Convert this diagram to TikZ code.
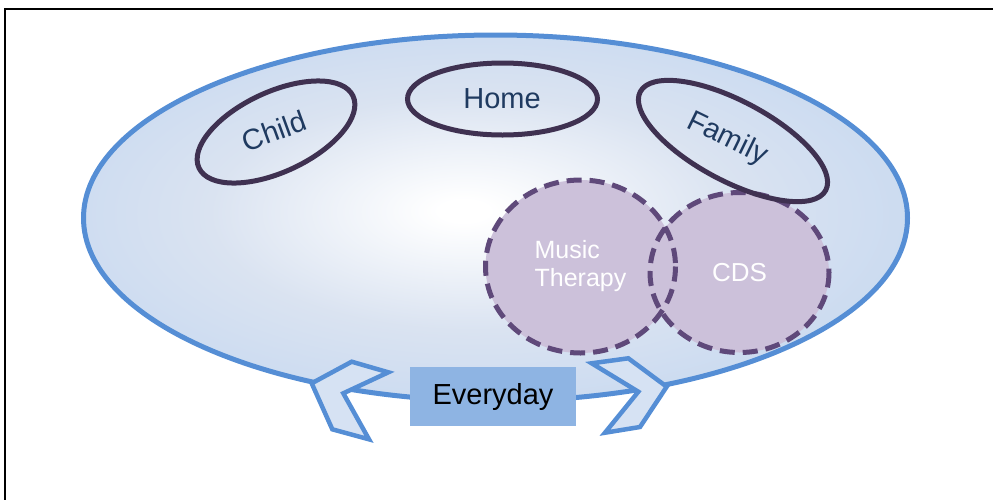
\documentclass[tikz,border=0pt]{standalone}
\usepackage{fontspec}
\setmainfont{Liberation Sans}
\usetikzlibrary{shapes.geometric}
\definecolor{ellblue}{HTML}{558ED5}
\definecolor{ellfill}{HTML}{C2D6F0}
\definecolor{ellmid}{HTML}{DAE3F1}
\definecolor{outl}{HTML}{3F3151}
\definecolor{txtnavy}{HTML}{1F3A60}
\definecolor{purfill}{HTML}{CCC1DA}
\definecolor{purline}{HTML}{5F497A}
\definecolor{boxblue}{HTML}{8EB4E3}
\definecolor{chevfill}{HTML}{D6E2F3}
\pgfdeclareradialshading{bigshade}{\pgfpoint{-2bp}{1bp}}{color(0bp)=(white); color(1.5bp)=(white); color(16bp)=(ellmid); color(33bp)=(ellfill); color(50bp)=(ellfill)}
\tikzset{
  smallell/.style={ellipse, draw=outl, line width=5pt, inner sep=0pt},
  lbl/.style={text=txtnavy, font=\fontsize{29}{32}\selectfont, inner sep=0pt},
  purcirc/.style={ellipse, fill=purfill, inner sep=0pt, text=white, align=left},
  purdash/.style={draw=purline, line width=5pt, dash pattern=on 15pt off 8pt},
  chevron/.style={draw=ellblue, fill=chevfill, line width=4.5pt, line join=miter},
}
\begin{document}
\begin{tikzpicture}[x=1pt,y=-1pt]
\useasboundingbox (0,0) rectangle (993,499);
% frame
\coordinate (fbl) at (5,500);
\coordinate (ftl) at (5,9);
\coordinate (ftr) at (994,9);
\draw[line width=2.5pt] (fbl) -- (ftl) -- (ftr);
% big ellipse
\node[ellipse, shade, shading=bigshade, draw=ellblue, line width=5pt, minimum width=824pt, minimum height=366pt, inner sep=0pt] (big) at (495.5,218) {};
% chevrons
\draw[chevron] (311.7,383.3) -- (351.7,361.7) -- (388.3,372.3) -- (343.3,393.3) -- (369,439.3) -- (332.3,429.3) -- cycle;
\draw[chevron] (666.7,386.7) -- (628.3,358.3) -- (591.7,363.3) -- (638.3,391.7) -- (605,432.7) -- (640,427) -- cycle;
% small ellipses
\node[smallell, minimum width=170pt, minimum height=80pt, rotate=25] (child) at (276,132) {};
\node[lbl, rotate=20] (childtxt) at (274,131) {Child};
\node[smallell, minimum width=190pt, minimum height=72pt] (home) at (502.5,99) {};
\node[lbl] (hometxt) at (502,99) {Home};
% purple circles
\node[purcirc, minimum width=190pt, minimum height=173pt, font=\fontsize{25}{28}\selectfont] (mt) at (580.5,266.5) {Music\\Therapy};
\node[purcirc, minimum width=179pt, minimum height=160pt, font=\fontsize{26}{30}\selectfont] (cds) at (739.5,272.5) {CDS};
\draw[purdash] (mt.center) ellipse [x radius=95, y radius=86.5];
\draw[purdash] (cds.center) ellipse [x radius=89.5, y radius=80];
% family
\node[smallell, minimum width=210pt, minimum height=80pt, rotate=-28] (family) at (733,141) {};
\node[lbl, rotate=-26] (familytxt) at (727,139) {Family};
% everyday
\node[fill=boxblue, minimum width=166pt, minimum height=59pt, inner sep=0pt, font=\fontsize{29}{32}\selectfont] (everyday) at (493,396.5) {Everyday};
\end{tikzpicture}
\end{document}
